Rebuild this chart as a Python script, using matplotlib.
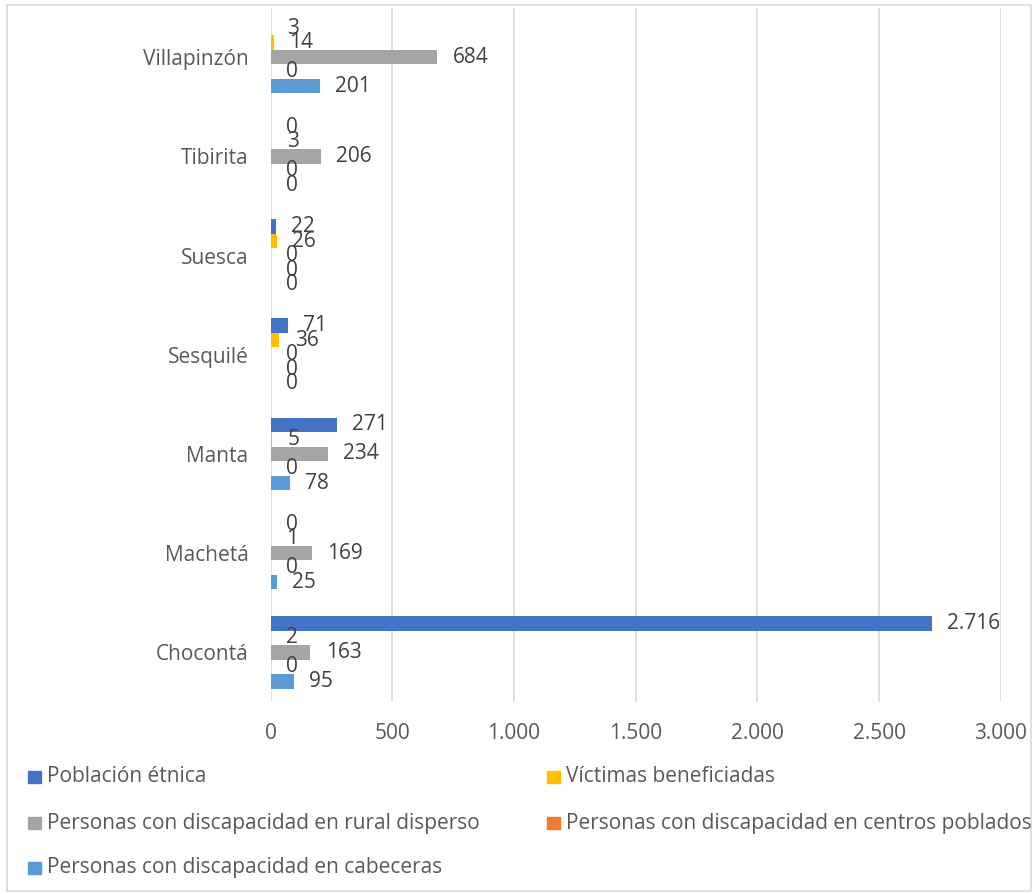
import matplotlib
matplotlib.use("Agg")
import matplotlib.pyplot as plt
from matplotlib.patches import Rectangle

plt.rcParams['font.family'] = ['Open Sans', 'DejaVu Sans']

categories = ["Chocontá", "Machetá", "Manta", "Sesquilé", "Suesca", "Tibirita", "Villapinzón"]
series_names = [
    "Población étnica",
    "Víctimas beneficiadas",
    "Personas con discapacidad en rural disperso",
    "Personas con discapacidad en centros poblados",
    "Personas con discapacidad en cabeceras",
]
poblacion_etnica = [2716, 0, 271, 71, 22, 0, 3]
victimas = [2, 1, 5, 36, 26, 3, 14]
rural_disperso = [163, 169, 234, 0, 0, 206, 684]
centros_poblados = [0, 0, 0, 0, 0, 0, 0]
cabeceras = [95, 25, 78, 0, 0, 0, 201]
x_ticks = [0, 500, 1000, 1500, 2000, 2500, 3000]

series_values = [poblacion_etnica, victimas, rural_disperso, centros_poblados, cabeceras]
colors = ["#4472C4", "#FFC000", "#A5A5A5", "#ED7D31", "#5B9BD5"]
text_color = "#595959"
FS = 15

W, H = 1034, 894
fig = plt.figure(figsize=(W / 100, H / 100), dpi=100)
left, right, top, bottom = 270.7, 1000.7, 7.5, 702
ax = fig.add_axes([left / W, 1 - bottom / H, (right - left) / W, (bottom - top) / H])

def fmt(v):
    return f"{v:,}".replace(",", ".")

h = 14.5 / 99.08
offsets = [2 * h, h, 0, -h, -2 * h]
for vals, off, col, name in zip(series_values, offsets, colors, series_names):
    ys = [i + off for i in range(len(categories))]
    ax.barh(ys, vals, height=h, color=col, label=name, zorder=3)
    for y, v in zip(ys, vals):
        ax.annotate(fmt(v), (v, y), xytext=(11, 0), textcoords='offset points',
                    ha='left', va='center', fontsize=FS, color="#404040", zorder=4)

ax.set_xlim(0, 3000)
ax.set_ylim(-0.5, len(categories) - 0.5)
ax.set_yticks(range(len(categories)))
ax.set_yticklabels(categories)
ax.set_xticks(x_ticks)
ax.set_xticklabels([fmt(t) for t in x_ticks])
ax.tick_params(axis='both', length=0, labelsize=FS, labelcolor=text_color)
ax.tick_params(axis='x', pad=15)
ax.tick_params(axis='y', pad=16)
for s in ax.spines.values():
    s.set_visible(False)
ax.xaxis.grid(True, color="#D9D9D9", lw=1.2, zorder=0)
ax.set_axisbelow(True)

# legend (row-major, 2 columns)
leg_pos = [(28, 777), (547, 777), (28, 823), (547, 823), (28, 868)]
for (px, py), col, name in zip(leg_pos, colors, series_names):
    fig.patches.append(Rectangle((px / W, 1 - (py + 6) / H), 13 / W, 12 / H,
                                 transform=fig.transFigure, color=col))
    fig.text((px + 19) / W, 1 - py / H, name, ha='left', va='center',
             fontsize=FS, color=text_color)

# outer border
fig.patches.append(Rectangle((7 / W, 1 - 891 / H), (1031 - 7) / W, (891 - 5) / H,
                             transform=fig.transFigure, fill=False,
                             edgecolor="#D9D9D9", lw=1.2))

fig.savefig("out.png", dpi=100)
